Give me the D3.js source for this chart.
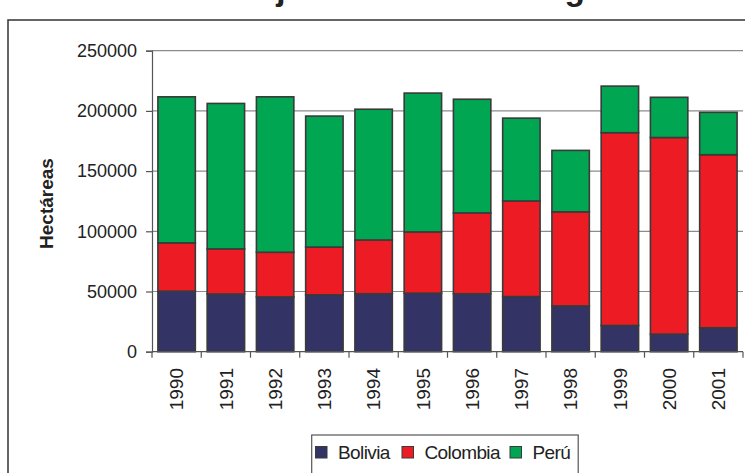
<!DOCTYPE html>
<html>
<head>
<meta charset="utf-8">
<script src="https://cdn.jsdelivr.net/npm/d3@7"></script>
<style>
  html, body { margin: 0; padding: 0; background: #fff; }
  svg { display: block; font-family: "Liberation Sans", Arial, sans-serif; }
</style>
</head>
<body>
<svg id="chart" width="745" height="473"></svg>
<script>
const years = ["1990","1991","1992","1993","1994","1995","1996","1997","1998","1999","2000","2001"];
const bolivia  = [50300, 47900, 45500, 47200, 48100, 48600, 48100, 45800, 38000, 21800, 14600, 19900];
const colombia = [40100, 37500, 37100, 39700, 44700, 50900, 67200, 79400, 78200, 160100, 163300, 143700];
const peru     = [121300, 120800, 129100, 108800, 108600, 115300, 94400, 68800, 51000, 38700, 33400, 35200];
const seriesNames = ["Bolivia", "Colombia", "Perú"];
const seriesColors = ["#333366", "#ed1c24", "#00a651"];
const yTicks = [0, 50000, 100000, 150000, 200000, 250000];
const titleText = "Cultivos de hoja de coca en la región andina";
const yLabel = "Hectáreas";

(function () {
const svg = d3.select("#chart");
const pL = 152, pR = 743, pT = 50.7, pB = 351.7;

// outer frame
svg.append("rect").attr("x", 8).attr("y", 20).attr("width", 800).attr("height", 500)
  .attr("fill", "none").attr("stroke", "#333").attr("stroke-width", 1.5);

// title (the reference shows it cut by the top edge: only descenders visible)
function measure(str) {
  const t = svg.append("text").attr("font-weight", "bold").attr("font-size", 20).text(str);
  const w = t.node().getComputedTextLength();
  t.remove();
  return w;
}
let fs = 30, tx = 60;
try {
  const ij = titleText.indexOf("j"), ig = titleText.indexOf("g");
  const cj = measure(titleText.slice(0, ij)) + measure("j") / 2;
  const cg = measure(titleText.slice(0, ig)) + measure("g") / 2;
  if (cg - cj > 10) {
    fs = 20 * 294 / (cg - cj);
    tx = 281 - cj * fs / 20;
  }
} catch (e) {}
svg.append("text").attr("font-weight", "bold").attr("fill", "#222")
  .attr("font-size", fs).attr("x", tx).attr("y", 0.3).text(titleText);

const x = d3.scaleBand().domain(years).range([pL, pR]).paddingInner(0.24).paddingOuter(0.12);
const y = d3.scaleLinear().domain([0, 250000]).range([pB, pT]);

// gridlines
svg.append("g").selectAll("line").data(yTicks.filter(d => d > 0)).join("line")
  .attr("x1", pL).attr("x2", pR)
  .attr("y1", d => y(d)).attr("y2", d => y(d))
  .attr("stroke", "#8c8c8c").attr("stroke-width", 1.2);

// stacked data
const rows = years.map((yr, i) => ({ year: yr, Bolivia: bolivia[i], Colombia: colombia[i], "Perú": peru[i] }));
const stack = d3.stack().keys(seriesNames)(rows);

svg.append("g").selectAll("g").data(stack).join("g")
  .attr("fill", (d, i) => seriesColors[i])
  .selectAll("rect").data(d => d).join("rect")
  .attr("x", d => x(d.data.year))
  .attr("width", x.bandwidth())
  .attr("y", d => y(d[1]))
  .attr("height", d => y(d[0]) - y(d[1]))
  .attr("stroke", "#3a3a3a").attr("stroke-width", 1.6);

// y axis
const yAxis = d3.axisLeft(y).tickValues(yTicks).tickSize(6).tickPadding(9).tickFormat(d3.format("d"));
const gy = svg.append("g").attr("transform", `translate(${pL},0)`).call(yAxis);
gy.select(".domain").attr("stroke", "#555").attr("stroke-width", 1.2);
gy.selectAll(".tick line").attr("stroke", "#555").attr("stroke-width", 1.2);
gy.selectAll("text").attr("font-size", 18).attr("fill", "#222")
  .attr("font-family", "'Liberation Sans', Arial, sans-serif");

// x axis
svg.append("line").attr("x1", pL).attr("x2", pR).attr("y1", pB).attr("y2", pB)
  .attr("stroke", "#555").attr("stroke-width", 1.2);
const bounds = d3.range(years.length + 1).map(i => pL + i * x.step());
svg.append("g").selectAll("line").data(bounds).join("line")
  .attr("x1", d => d).attr("x2", d => d).attr("y1", pB).attr("y2", pB + 6)
  .attr("stroke", "#555").attr("stroke-width", 1.2);
svg.append("g").selectAll("text").data(years).join("text")
  .attr("transform", d => `translate(${x(d) + x.bandwidth() / 2},368) rotate(-90)`)
  .attr("text-anchor", "end").attr("dy", "0.35em")
  .attr("font-size", 19).attr("fill", "#222").text(d => d);

// y label
svg.append("text").attr("transform", "translate(53,203.5) rotate(-90)")
  .attr("text-anchor", "middle").attr("font-weight", "bold").attr("font-size", 19)
  .attr("fill", "#222").text(yLabel);

// legend
const lg = svg.append("g");
lg.append("rect").attr("x", 311.7).attr("y", 435).attr("width", 266.5).attr("height", 60)
  .attr("fill", "#fff").attr("stroke", "#555").attr("stroke-width", 1.2);
const legendX = [315.5, 402, 510];
seriesNames.forEach((name, i) => {
  lg.append("rect").attr("x", legendX[i]).attr("y", 446.5).attr("width", 11.5).attr("height", 11.5)
    .attr("fill", seriesColors[i]).attr("stroke", "#3a3a3a").attr("stroke-width", 1);
  lg.append("text").attr("x", legendX[i] + 22.5).attr("y", 459.3)
    .attr("font-size", 19).attr("fill", "#222")
    .style("letter-spacing", "-0.6px").text(name);
});
})();
</script>
</body>
</html>
